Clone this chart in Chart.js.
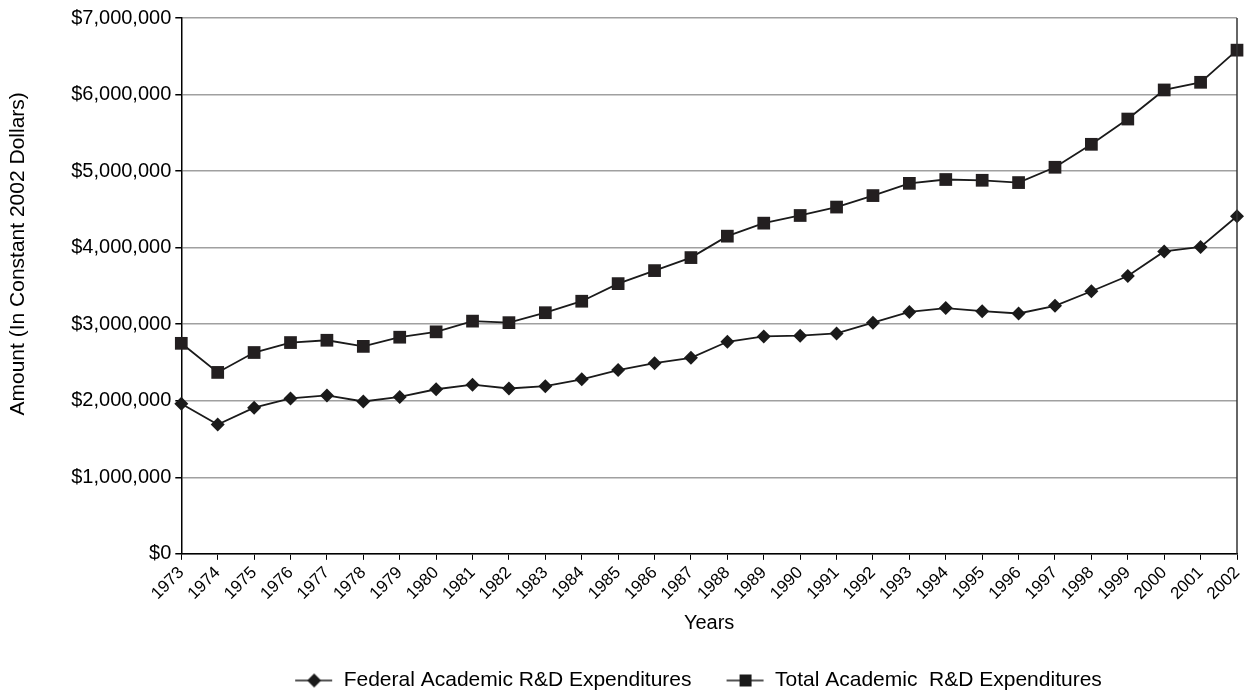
<!DOCTYPE html>
<html>
<head>
<meta charset="utf-8">
<script src="https://cdn.jsdelivr.net/npm/chart.js@4/dist/chart.umd.min.js"></script>
<style>
    html, body { margin: 0; padding: 0; background: #fff; }
    #wrap { width: 1246px; height: 696px; }
</style>
</head>
<body>
<div id="wrap"><canvas id="view" width="1246" height="696"></canvas></div>
<script>
const years = ['1973','1974','1975','1976','1977','1978','1979','1980','1981','1982',
    '1983','1984','1985','1986','1987','1988','1989','1990','1991','1992',
    '1993','1994','1995','1996','1997','1998','1999','2000','2001','2002'];

const federal = [1960000, 1690000, 1910000, 2030000, 2070000, 1990000, 2050000, 2150000, 2210000, 2160000,
    2190000, 2280000, 2400000, 2490000, 2560000, 2770000, 2840000, 2850000, 2880000, 3020000,
    3160000, 3210000, 3170000, 3140000, 3240000, 3430000, 3630000, 3950000, 4010000, 4410000];

const total = [2750000, 2370000, 2630000, 2760000, 2790000, 2710000, 2830000, 2900000, 3040000, 3020000,
    3150000, 3300000, 3530000, 3700000, 3870000, 4150000, 4320000, 4420000, 4530000, 4680000,
    4840000, 4890000, 4880000, 4850000, 5050000, 5350000, 5680000, 6060000, 6160000, 6580000];

const seriesNames = ['Federal Academic R&D Expenditures', 'Total Academic  R&D Expenditures'];

const font = 'Arial, "Liberation Sans", sans-serif';
const ink = '#1a1a1a';

// line + marker icon for the legend (blank lead-in keeps the gap between items)
function legendIcon(shape) {
    const c = document.createElement('canvas');
    c.width = 63;
    c.height = 16;
    const ctx = c.getContext('2d');
    ctx.strokeStyle = ink;
    ctx.lineWidth = 1.6;
    ctx.beginPath();
    ctx.moveTo(25, 8);
    ctx.lineTo(62, 8);
    ctx.stroke();
    ctx.fillStyle = ink;
    ctx.beginPath();
    if (shape === 'diamond') {
        ctx.moveTo(44, 1); ctx.lineTo(51, 8); ctx.lineTo(44, 15); ctx.lineTo(37, 8);
    } else {
        ctx.rect(38, 2, 12, 12);
    }
    ctx.closePath();
    ctx.fill();
    return c;
}

const icons = [legendIcon('diamond'), legendIcon('square')];

const frame = {
    id: 'frame',
    afterDatasetsDraw(chart) {
        const { ctx, chartArea } = chart;
        ctx.save();
        ctx.strokeStyle = '#333';
        ctx.lineWidth = 1.5;
        ctx.beginPath();
        ctx.moveTo(chartArea.right, chartArea.top);
        ctx.lineTo(chartArea.right, chartArea.bottom);
        ctx.stroke();
        ctx.restore();
    },
    afterLayout(chart) {
        const lg = chart.legend;
        lg.left += 58;
        lg.right += 58;
        lg.top += 7;
        lg.bottom += 7;
    }
};

// keep scales from reserving extra room on the right
function noRightPad(scale) {
    scale.paddingRight = 0;
    scale.getPadding = () => ({ left: scale.paddingLeft || 0, top: scale.paddingTop || 0, right: 0, bottom: scale.paddingBottom || 0 });
}

new Chart(document.getElementById('view'), {
    type: 'line',
    data: {
        labels: years,
        datasets: [
            {
                label: seriesNames[0],
                data: federal,
                borderColor: ink,
                backgroundColor: ink,
                borderWidth: 1.8,
                pointStyle: 'rectRot',
                pointRadius: 7,
                pointBorderWidth: 0,
                tension: 0,
                clip: false,
            },
            {
                label: seriesNames[1],
                data: total,
                borderColor: ink,
                backgroundColor: '#231f20',
                borderWidth: 1.8,
                pointStyle: 'rect',
                pointRadius: 9,
                pointBorderWidth: 0,
                tension: 0,
                clip: false,
            }
        ]
    },
    options: {
        responsive: false,
        animation: false,
        layout: { padding: { top: 18, right: -4, left: 6, bottom: 2 } },
        plugins: {
            tooltip: { enabled: false },
            legend: {
                position: 'bottom',
                labels: {
                    usePointStyle: true,
                    pointStyleWidth: 63,
                    color: '#000',
                    font: { family: font, size: 21 },
                    padding: 10,
                    generateLabels: (chart) => chart.data.datasets.map((ds, i) => ({
                        text: ds.label,
                        pointStyle: icons[i],
                        datasetIndex: i,
                        hidden: false,
                        lineWidth: 0,
                        fontColor: '#000',
                    })),
                },
            },
        },
        scales: {
            x: {
                offset: false,
                afterFit: noRightPad,
                grid: { display: true, drawOnChartArea: false, color: '#000', tickLength: 6 },
                border: { color: '#000', width: 1.5 },
                ticks: {
                    color: '#000',
                    font: { family: font, size: 17 },
                    maxRotation: 45,
                    minRotation: 45,
                    autoSkip: false,
                    padding: 3,
                },
                title: {
                    display: true,
                    text: 'Years',
                    color: '#000',
                    font: { family: font, size: 20 },
                    padding: { top: 4, bottom: 18 },
                },
            },
            y: {
                min: 0,
                max: 7000000,
                afterFit: (scale) => { noRightPad(scale); scale.paddingTop = 0; },
                grid: { color: '#a0a0a0', lineWidth: 1.5, tickLength: 6, tickColor: '#000' },
                border: { color: '#000', width: 1.5 },
                ticks: {
                    stepSize: 1000000,
                    color: '#000',
                    font: { family: font, size: 20 },
                    padding: 4,
                    callback: (v) => '$' + v.toLocaleString('en-US'),
                },
                title: {
                    display: true,
                    // leading spaces lift the centred title like the original
                    text: '           Amount (In Constant 2002 Dollars)',
                    color: '#000',
                    font: { family: font, size: 21 },
                    padding: { top: 0, bottom: 36 },
                },
            },
        },
    },
    plugins: [frame],
});
</script>
</body>
</html>
